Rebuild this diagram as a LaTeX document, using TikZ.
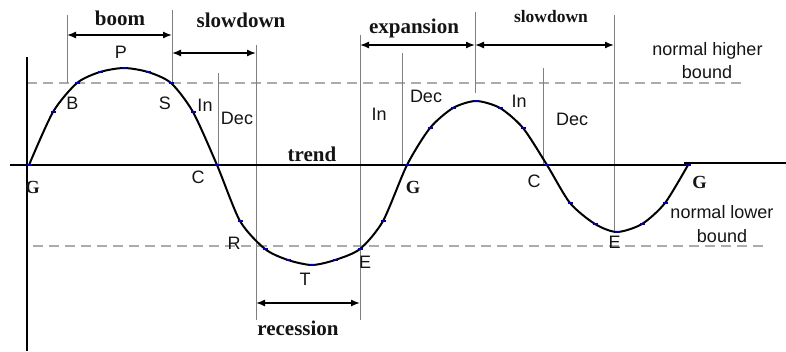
\documentclass[tikz,border=0pt]{standalone}
\usepackage{fontspec}
\setmainfont{Liberation Serif}
\setsansfont{Liberation Sans}
\usetikzlibrary{arrows.meta}
\begin{document}
\begin{tikzpicture}[x=1pt,y=-1pt,
  lbl/.style={font=\sffamily\fontsize{18}{20}\selectfont, anchor=base, inner sep=0pt, text=black!92},
  ttl/.style={font=\rmfamily\bfseries\fontsize{21}{24}\selectfont, anchor=base, inner sep=0pt, text=black!92},
  gl/.style={font=\rmfamily\bfseries\fontsize{18.5}{20}\selectfont, anchor=base, inner sep=0pt, text=black!92},
  vline/.style={draw=gray, line width=1pt},
  dimarrow/.style={{Latex[length=9pt,width=7pt]}-{Latex[length=9pt,width=7pt]}, line width=1.4pt},
  bnd/.style={draw=gray!65, dash pattern=on 10pt off 6pt, line width=1.4pt},
  curve/.style={line width=2pt, line join=round},
  pdot/.style={fill=blue!70!black, draw=none}]
\useasboundingbox (0,0) rectangle (786,351);

% bounds
\draw[bnd] (27,83) -- (747,83);
\draw[bnd] (33,246) -- (767,246);

% vertical guide lines
\coordinate (v1t) at (67,15);  \coordinate (v1b) at (67,83);
\coordinate (v2t) at (172,10); \coordinate (v2b) at (172,83);
\coordinate (v3t) at (218,73); \coordinate (v3b) at (218,165);
\coordinate (v4t) at (256,45); \coordinate (v4b) at (256,320);
\coordinate (v5t) at (360,35); \coordinate (v5b) at (360,320);
\coordinate (v6t) at (402,53); \coordinate (v6b) at (402,165);
\coordinate (v7t) at (475,12); \coordinate (v7b) at (475,93);
\coordinate (v8t) at (543,68); \coordinate (v8b) at (543,165);
\coordinate (v9t) at (614,15); \coordinate (v9b) at (614,232);
\foreach \i in {1,...,9} { \draw[vline] (v\i t) -- (v\i b); }

% axes
\coordinate (ax0) at (27,57); \coordinate (ax1) at (27,351);
\draw[line width=1.5pt] (ax0) -- (ax1);
\coordinate (tr0) at (10,165); \coordinate (tr1) at (688,165);
\coordinate (tr2) at (684,163); \coordinate (tr3) at (786,163);
\draw[line width=1.8pt] (tr0) -- (tr1);
\draw[line width=1.8pt] (tr2) -- (tr3);

% curve
\draw[curve] plot[smooth, tension=0.45] coordinates {
(29,165) (53,112) (77,83) (100,72) (124,68) (148,72) (171,83) (193,112) (217,165)
(240,221) (265,249) (288,260) (312,265) (335,260) (360,249) (383,221) (407,165)
(430,128) (453,108) (476,101) (500,108) (523,128) (547,165)
(570,203) (595,224) (617,232) (642,224) (665,203) (688,165)};
\foreach \p in {(29,165),(53,112),(77,83),(100,72),(124,68),(148,72),(171,83),(193,112),(217,165),
(240,221),(265,249),(288,260),(312,265),(335,260),(360,249),(383,221),(407,165),
(430,128),(453,108),(476,101),(500,108),(523,128),(547,165),
(570,203),(595,224),(617,232),(642,224),(665,203),(688,165)}
{ \fill[pdot] \p ++(-2.5,-1.3) rectangle ++(5,2.6); }

% dimension arrows
\coordinate (a1) at (67,35);  \coordinate (a2) at (172,35);
\coordinate (b1) at (172,53); \coordinate (b2) at (256,53);
\coordinate (c1) at (360,45); \coordinate (c2) at (475,45);
\coordinate (d1) at (475,45); \coordinate (d2) at (614,45);
\coordinate (e1) at (256,303); \coordinate (e2) at (360,303);
\draw[dimarrow] (a1) -- (a2);
\draw[dimarrow] (b1) -- (b2);
\draw[dimarrow] (c1) -- (c2);
\draw[dimarrow] (d1) -- (d2);
\draw[dimarrow] (e1) -- (e2);

% titles
\node[ttl] (tboom) at (120,25) {boom};
\node[ttl] (tslow1) at (241,27) {slowdown};
\node[ttl] (texp) at (414,33) {expansion};
\node[ttl, font=\rmfamily\bfseries\fontsize{17.5}{20}\selectfont] (tslow2) at (551,22) {slowdown};
\node[ttl] (trec) at (298,335) {recession};
\node[ttl] (ttrend) at (312,161) {trend};

% letter labels
\node[lbl] (P) at (121,58) {P};
\node[lbl] (B) at (72.5,109) {B};
\node[lbl] (S) at (165,109) {S};
\node[lbl] (In1) at (205,111) {In};
\node[lbl] (Dec1) at (237,124) {Dec};
\node[lbl] (C1) at (198,183) {C};
\node[gl] (G1) at (32.5,193) {G};
\node[lbl] (R) at (234,249) {R};
\node[lbl] (T) at (305,285) {T};
\node[lbl] (E1) at (365,268) {E};
\node[lbl] (In2) at (379,120) {In};
\node[lbl] (Dec2) at (426,102) {Dec};
\node[lbl] (In3) at (519,107) {In};
\node[lbl] (Dec3) at (572,125) {Dec};
\node[gl] (G2) at (413,193) {G};
\node[lbl] (C2) at (534,187) {C};
\node[lbl] (E2) at (614.5,248) {E};
\node[gl] (G3) at (699.5,188) {G};
\node[lbl] (nh1) at (707.5,55) {normal higher};
\node[lbl] (nh2) at (707,78) {bound};
\node[lbl] (nl1) at (722,218) {normal lower};
\node[lbl] (nl2) at (722,242) {bound};
\end{tikzpicture}
\end{document}
